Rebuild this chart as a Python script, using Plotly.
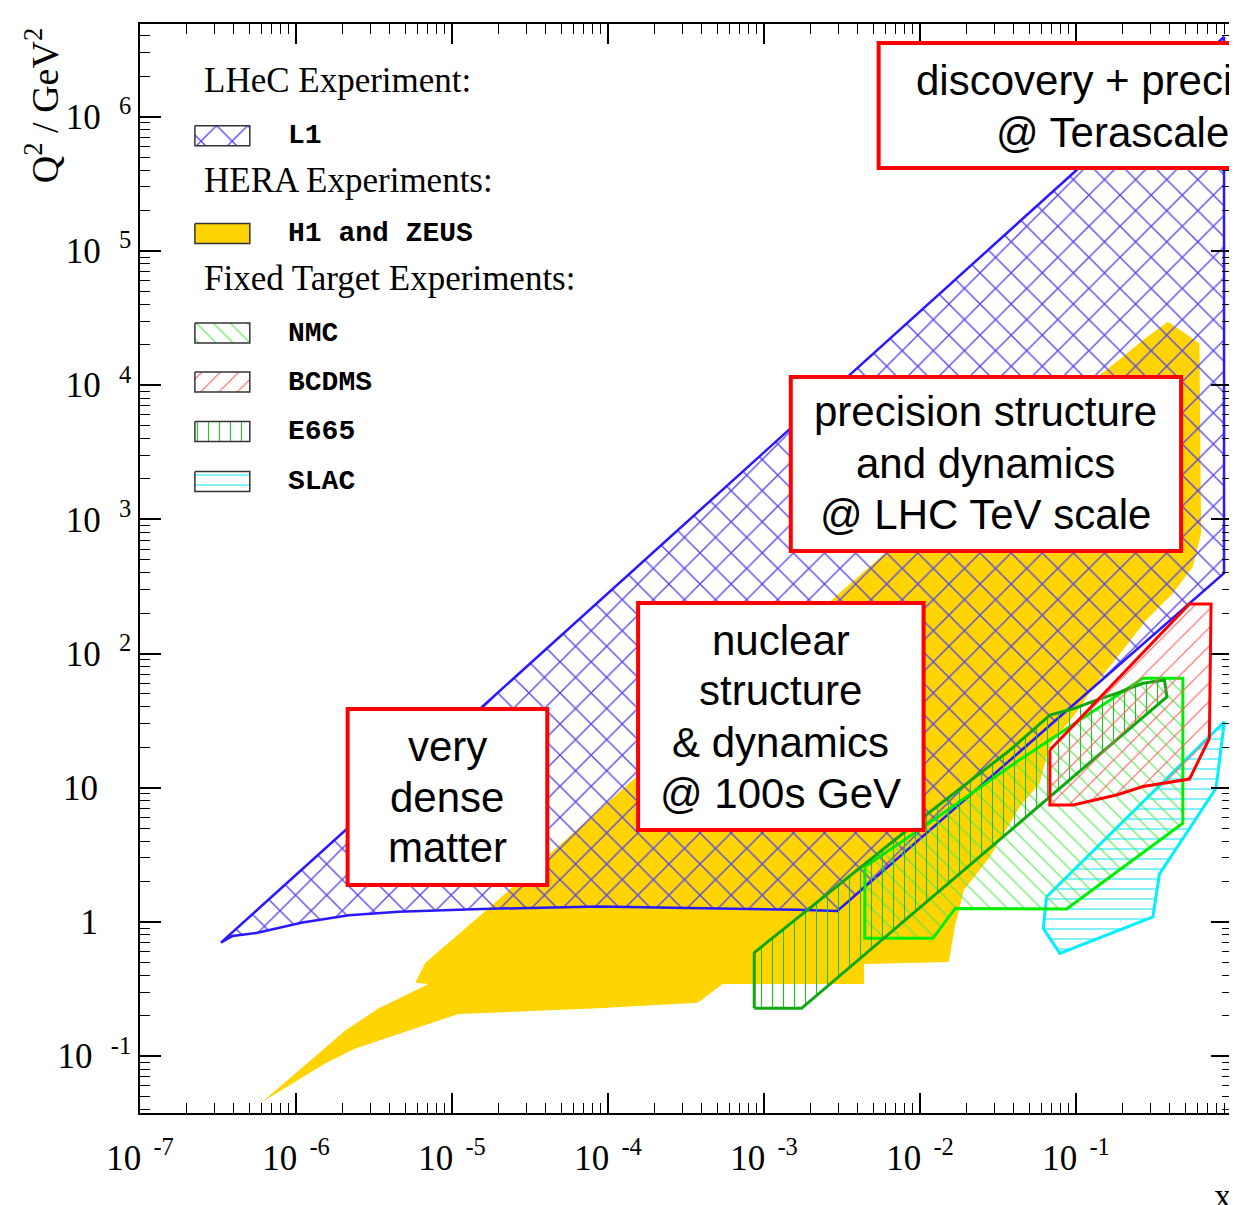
import plotly.graph_objects as go

# ---------------------------------------------------------------
# Kinematic coverage in the (x, Q^2) plane
# ---------------------------------------------------------------
l1_x = [3.30e-7, 0.889, 0.889, 2.95e-3, 1.64e-3, 3.76e-4, 8.63e-5,
        1.54e-5, 4.55e-6, 2.18e-6, 1.10e-6, 5.66e-7, 3.92e-7, 3.30e-7]
l1_q2 = [0.70, 3.93e6, 396, 1.205, 1.23, 1.27, 1.30,
         1.25, 1.19, 1.12, 0.99, 0.83, 0.785, 0.70]

hera_x = [6.09e-7, 2.08e-6, 3.39e-6, 7.08e-6, 5.82e-6, 6.75e-6, 1.71e-5,
          1.48e-4, 2.95e-3, 0.031, 0.1815, 0.269, 0.388, 0.618, 0.634,
          0.561, 0.418, 0.282, 0.200, 0.135, 0.096, 0.0678, 0.0585, 0.0435,
          0.0280, 0.0191, 0.0167, 0.0153, 4.37e-3, 4.37e-3, 5.43e-4,
          3.76e-4, 8.63e-5, 1.10e-5, 2.40e-6, 1.55e-6, 6.09e-7]
hera_q2 = [0.0457, 0.156, 0.227, 0.344, 0.352, 0.497, 1.26,
           11.7, 273, 3010, 14860, 21700, 29700, 20500, 787,
           443, 281, 178, 106, 60, 33.8, 20.8, 10.8, 7.18,
           3.05, 1.73, 0.916, 0.502, 0.485, 0.344, 0.344,
           0.250, 0.227, 0.206, 0.114, 0.0883, 0.0457]

nmc_x = [4.43e-3, 4.43e-3, 0.0121, 0.0168, 0.087, 0.484, 0.484,
         0.269, 0.0417, 0.01056, 4.43e-3]
nmc_q2 = [2.58, 0.755, 0.755, 1.26, 1.25, 5.43, 65.3,
          65.3, 15.6, 5.12, 2.58]

bcdms_x = [0.068, 0.5335, 0.734, 0.716, 0.534, 0.269, 0.1815, 0.096, 0.068, 0.068]
bcdms_q2 = [19.1, 234, 234, 23.3, 11.6, 10.2, 8.83, 7.43, 7.43, 19.1]

e665_x = [8.66e-4, 1.74e-3, 0.0417, 0.3825, 0.369, 0.269, 0.1815, 0.135,
          0.0983, 0.068, 0.0378, 0.01056, 8.66e-4, 8.66e-4]
e665_q2 = [0.227, 0.227, 5.27, 47.6, 63.5, 60, 50.5, 45,
           39.1, 34.8, 19.1, 6.08, 0.590, 0.227]

slac_x = [0.0648, 0.893, 0.790, 0.343, 0.311, 0.0788, 0.0617, 0.0648]
slac_q2 = [1.54, 31.0, 9.91, 2.28, 1.09, 0.583, 0.895, 1.54]

x_ticks = [1e-7, 1e-6, 1e-5, 1e-4, 1e-3, 1e-2, 1e-1, 1]
x_ticklabels = ["10<sup>\u00a0\u00a0-7</sup>", "10<sup>\u00a0\u00a0-6</sup>",
                "10<sup>\u00a0\u00a0-5</sup>", "10<sup>\u00a0\u00a0-4</sup>",
                "10<sup>\u00a0\u00a0-3</sup>", "10<sup>\u00a0\u00a0-2</sup>",
                "10<sup>\u00a0\u00a0-1</sup>", "1"]
y_ticks = [1e-1, 1, 10, 1e2, 1e3, 1e4, 1e5, 1e6]
y_ticklabels = ["10<sup>\u00a0\u00a0\u00a0-1</sup>", "1\u00a0\u00a0\u00a0\u2009",
                "10\u00a0\u00a0\u00a0\u2009", "10<sup>\u00a0\u00a0\u00a02</sup>",
                "10<sup>\u00a0\u00a0\u00a03</sup>", "10<sup>\u00a0\u00a0\u00a04</sup>",
                "10<sup>\u00a0\u00a0\u00a05</sup>", "10<sup>\u00a0\u00a0\u00a06</sup>"]

legend_groups = ["LHeC Experiment:", "HERA Experiments:", "Fixed Target Experiments:"]
legend_items = ["L1", "H1 and ZEUS", "NMC", "BCDMS", "E665", "SLAC"]

box_texts = [
    ["discovery + precision", "@ Terascale"],
    ["precision structure", "and dynamics", "@ LHC TeV scale"],
    ["nuclear", "structure", "&amp; dynamics", "@ 100s GeV"],
    ["very", "dense", "matter"],
]

# ---------------------------------------------------------------
# page geometry: the html body adds an 8 px margin around the figure
OFF = 8
W, H = 1237 - OFF, 1205 - OFF
ML, MR, MT, MB = 132, 3, 16, 92
PW, PH = W - ML - MR, H - MT - MB


def px(x):
    # page pixel -> paper fraction
    return (x - OFF - ML) / PW


def py(y):
    return 1 - (y - OFF - MT) / PH


SERIF = "Liberation Serif"
SANS = "Liberation Sans"
MONO = "Liberation Mono"

styles = {
    "L1": dict(line="#2a18ff", width=2.5,
               pattern=dict(shape="x", fgcolor="#5646ea", size=22, solidity=0.12)),
    "H1 and ZEUS": dict(line="#ffd400", width=0, fill="#ffd400", pattern=None),
    "NMC": dict(line="#00ee00", width=3,
                pattern=dict(shape="\\", fgcolor="#4fe84f", size=12, solidity=0.1)),
    "BCDMS": dict(line="#ff0000", width=3,
                  pattern=dict(shape="/", fgcolor="#ff6060", size=13, solidity=0.09)),
    "E665": dict(line="#10a810", width=3,
                 pattern=dict(shape="|", fgcolor="#20c020", size=11, solidity=0.1)),
    "SLAC": dict(line="#00f0ff", width=3,
                 pattern=dict(shape="-", fgcolor="#30e8ff", size=10, solidity=0.12)),
}


def area(name, x, y, xaxis="x", yaxis="y", edge=None, edge_width=None):
    s = styles[name]
    kw = dict(x=x, y=y, mode="lines", fill="toself", name=name, showlegend=False,
              hoverinfo="skip", xaxis=xaxis, yaxis=yaxis,
              line=dict(color=edge or s["line"],
                        width=s["width"] if edge_width is None else edge_width))
    if s["pattern"]:
        kw["fillcolor"] = "rgba(0,0,0,0)"
        kw["fillpattern"] = dict(fillmode="replace", bgcolor="rgba(0,0,0,0)", **s["pattern"])
    else:
        kw["fillcolor"] = s["fill"]
    return go.Scatter(**kw)


fig = go.Figure()

regions = [("H1 and ZEUS", hera_x, hera_q2), ("L1", l1_x, l1_q2),
           ("SLAC", slac_x, slac_q2), ("NMC", nmc_x, nmc_q2),
           ("E665", e665_x, e665_q2), ("BCDMS", bcdms_x, bcdms_q2)]
for name, xs, ys in regions:
    fig.add_trace(area(name, xs, ys))

# legend keys drawn on an inset axis measured in page pixels
row_y = [135.7, 233.5, 333, 382, 431.5, 481.5]
for name, c in zip(legend_items, row_y):
    fig.add_trace(area(name, [195, 250, 250, 195, 195],
                       [c - 10, c - 10, c + 10, c + 10, c - 10],
                       xaxis="x2", yaxis="y2", edge="#333333", edge_width=1.5))

annotations = []
for text, y in zip(legend_groups, [80, 180, 278]):
    annotations.append(dict(text=text, x=px(202), y=py(y), xref="paper", yref="paper",
                            xanchor="left", yanchor="middle", showarrow=False,
                            font=dict(family=SERIF, size=35, color="black")))
for text, y in zip(legend_items, row_y):
    annotations.append(dict(text="<b>%s</b>" % text, x=px(286), y=py(y),
                            xref="paper", yref="paper", xanchor="left",
                            yanchor="middle", showarrow=False,
                            font=dict(family=MONO, size=28, color="black")))

# red-framed captions
box_geom = [
    ((880, 43, 1348, 168), 1114, [80, 132]),
    ((792, 377, 1183, 551), 987.5, [412, 463, 514]),
    ((639, 603, 925, 830), 782, [640, 690, 742, 793]),
    ((348, 709, 548, 885), 448, [746, 797, 848]),
]
shapes = []
for (x0, y0, x1, y1), cx, ys in box_geom:
    shapes.append(dict(type="rect", xref="paper", yref="paper",
                       x0=px(x0), x1=px(x1), y0=py(y1), y1=py(y0),
                       fillcolor="white", line=dict(color="#ff0000", width=4)))
for (_, cx, ys), lines in zip(box_geom, box_texts):
    for text, y in zip(lines, ys):
        annotations.append(dict(text=text, x=px(cx), y=py(y), xref="paper", yref="paper",
                                xanchor="center", yanchor="middle", showarrow=False,
                                font=dict(family=SANS, size=42, color="black")))

# axis titles
annotations.append(dict(text="Q<sup>2</sup> / GeV<sup>2</sup>", textangle=-90,
                        x=px(42), y=py(106), xref="paper", yref="paper",
                        xanchor="center", yanchor="middle", showarrow=False,
                        font=dict(family=SERIF, size=38, color="black")))
annotations.append(dict(text="x", x=px(1225), y=py(1197), xref="paper", yref="paper",
                        xanchor="center", yanchor="middle", showarrow=False,
                        font=dict(family=SERIF, size=35, color="black")))

axis_common = dict(type="log", showgrid=False, zeroline=False, showline=True,
                   linecolor="black", linewidth=1.5, mirror="allticks",
                   ticks="inside", tickcolor="black", tickwidth=1.5,
                   tickmode="array",
                   tickfont=dict(family=SERIF, size=35, color="black"))

x_minor = [m * 10.0 ** k for k in range(-7, 0) for m in range(2, 10)]
y_minor = [m * 10.0 ** k for k in range(-2, 7) for m in range(2, 10)]

fig.update_layout(
    width=W, height=H, margin=dict(l=ML, r=MR, t=MT, b=MB),
    plot_bgcolor="white", paper_bgcolor="white", showlegend=False,
    xaxis=dict(axis_common, range=[-7, 0], tickvals=x_ticks, ticktext=x_ticklabels,
               ticklen=20, ticklabelstandoff=13,
               minor=dict(tickmode="array", tickvals=x_minor, ticks="inside",
                          ticklen=10, tickcolor="black", tickwidth=1.2, showgrid=False)),
    yaxis=dict(axis_common, range=[-1.424, 6.691], tickvals=y_ticks, ticktext=y_ticklabels,
               ticklen=21,
               minor=dict(tickmode="array", tickvals=y_minor, ticks="inside",
                          ticklen=10, tickcolor="black", tickwidth=1.2, showgrid=False)),
    xaxis2=dict(domain=[px(170), px(270)], range=[170, 270], visible=False,
                anchor="y2", fixedrange=True),
    yaxis2=dict(domain=[py(510), py(110)], range=[510, 110], visible=False,
                anchor="x2", fixedrange=True),
    shapes=shapes,
    annotations=annotations,
)

fig.write_html("out.html")
